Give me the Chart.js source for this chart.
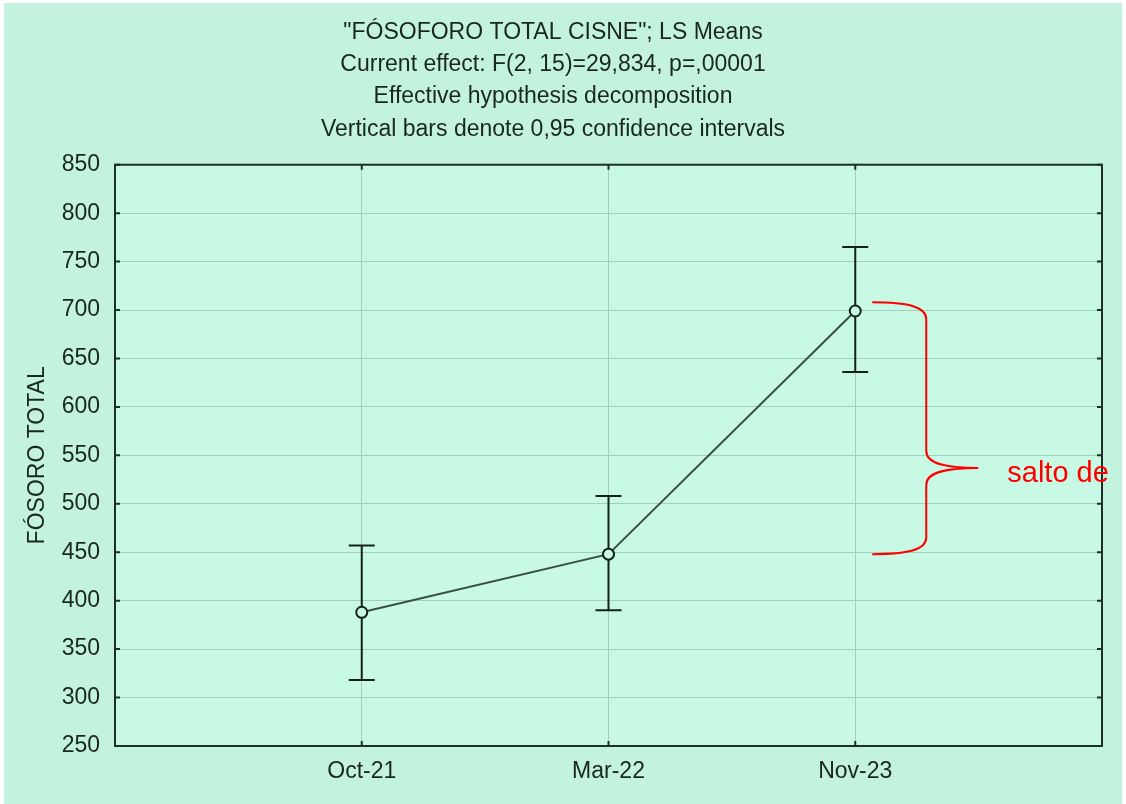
<!DOCTYPE html>
<html>
<head>
<meta charset="utf-8">
<script src="https://cdn.jsdelivr.net/npm/chart.js@4"></script>
<style>
  html, body { margin: 0; padding: 0; background: #ffffff; }
  #wrap { position: absolute; left: 4px; top: 3px; width: 1118px; height: 801px; }
</style>
</head>
<body>
<div id="wrap"><canvas id="lsChart" width="1118" height="801"></canvas></div>
<script>
const categories = ['Oct-21', 'Mar-22', 'Nov-23'];
const means = [388, 448, 699];
const lower95 = [318, 390, 636];
const upper95 = [457, 508, 765];

const titleLines = [
    '"FÓSOFORO TOTAL CISNE"; LS Means',
    'Current effect: F(2, 15)=29,834, p=,00001',
    'Effective hypothesis decomposition',
    'Vertical bars denote 0,95 confidence intervals'
];
const yLabel = 'FÓSORO TOTAL';

// red hand-drawn brace annotation
const braceTop = 708;
const braceTip = 537;
const braceBottom = 448;
const braceNote = 'salto de';

const FONT = "'Liberation Sans', Arial, sans-serif";
const outerBg = '#c3f3df';
const plotBg = '#c7f9e4';
const ink = '#1a2620';

const points = means.map((v, i) => ({ x: i, y: v }));

const bgPlugin = {
    id: 'bg',
    beforeDraw(chart) {
        const { ctx, chartArea: a } = chart;
        ctx.save();
        ctx.fillStyle = outerBg;
        ctx.fillRect(0, 0, chart.width, chart.height);
        ctx.fillStyle = plotBg;
        ctx.fillRect(a.left, a.top, a.right - a.left, a.bottom - a.top);
        ctx.restore();
    }
};

const errorBars = {
    id: 'errorBars',
    beforeDatasetsDraw(chart) {
        const { ctx, scales: { x, y } } = chart;
        ctx.save();
        ctx.strokeStyle = '#17211d';
        ctx.lineWidth = 2;
        for (let i = 0; i < means.length; i++) {
            const px = x.getPixelForValue(i);
            const yl = y.getPixelForValue(lower95[i]);
            const yu = y.getPixelForValue(upper95[i]);
            ctx.beginPath();
            ctx.moveTo(px, yl); ctx.lineTo(px, yu);
            ctx.moveTo(px - 13, yl); ctx.lineTo(px + 13, yl);
            ctx.moveTo(px - 13, yu); ctx.lineTo(px + 13, yu);
            ctx.stroke();
        }
        ctx.restore();
    }
};

const frame = {
    id: 'frame',
    afterDraw(chart) {
        const { ctx, chartArea: a, scales: { x, y } } = chart;
        ctx.save();
        ctx.strokeStyle = '#1c2f28';
        ctx.lineWidth = 2;
        // inner tick marks
        ctx.beginPath();
        y.ticks.forEach(t => {
            const py = y.getPixelForValue(t.value);
            ctx.moveTo(a.left, py); ctx.lineTo(a.left + 5, py);
            ctx.moveTo(a.right, py); ctx.lineTo(a.right - 5, py);
        });
        categories.forEach((c, i) => {
            const px = x.getPixelForValue(i);
            ctx.moveTo(px, a.bottom); ctx.lineTo(px, a.bottom - 5);
            ctx.moveTo(px, a.top); ctx.lineTo(px, a.top + 5);
        });
        ctx.stroke();
        ctx.strokeRect(a.left, a.top, a.right - a.left, a.bottom - a.top);

        // brace
        const x0 = x.getPixelForValue(categories.length - 1);
        const yT = y.getPixelForValue(braceTop);
        const yM = y.getPixelForValue(braceTip);
        const yB = y.getPixelForValue(braceBottom);
        const xs = x0 + 17, xv = x0 + 71, xt = x0 + 123;
        ctx.strokeStyle = '#ff0000';
        ctx.lineWidth = 2;
        ctx.beginPath();
        ctx.moveTo(xs, yT);
        ctx.bezierCurveTo(xs + 35, yT, xv, yT + 4, xv, yT + 17);
        ctx.lineTo(xv, yM - 17);
        ctx.bezierCurveTo(xv, yM - 4, xv + 20, yM, xt, yM);
        ctx.bezierCurveTo(xv + 20, yM, xv, yM + 4, xv, yM + 17);
        ctx.lineTo(xv, yB - 17);
        ctx.bezierCurveTo(xv, yB - 4, xs + 35, yB, xs, yB);
        ctx.stroke();
        ctx.fillStyle = '#ff0000';
        ctx.font = '29px ' + FONT;
        ctx.textBaseline = 'alphabetic';
        ctx.textAlign = 'left';
        ctx.fillText(braceNote, xt + 29, yM + 14);
        ctx.restore();
    }
};

const config = {
    type: 'line',
    data: {
        datasets: [{
            data: points,
            borderColor: '#3b4d45',
            borderWidth: 2,
            tension: 0,
            pointRadius: 5.5,
            pointHoverRadius: 5.5,
            pointBorderWidth: 2,
            pointBorderColor: '#17211d',
            pointBackgroundColor: plotBg,
            fill: false
        }]
    },
    options: {
        responsive: false,
        animation: false,
        events: [],
        layout: { padding: { left: 0, right: 20, top: 0, bottom: 0 } },
        plugins: {
            legend: { display: false },
            tooltip: { enabled: false },
            title: {
                display: true,
                text: titleLines,
                color: ink,
                font: { family: FONT, size: 23, weight: 'normal', lineHeight: 1.41 },
                padding: { top: 13, bottom: 19 }
            }
        },
        scales: {
            x: {
                type: 'linear',
                min: -1,
                max: categories.length,
                afterFit(scale) { scale.height = 58; },
                ticks: {
                    stepSize: 1,
                    color: ink,
                    padding: 12,
                    font: { family: FONT, size: 23 },
                    callback: v => categories[v] ?? ''
                },
                grid: { color: '#a6cfbb', lineWidth: 1, drawTicks: false, tickLength: 0 },
                border: { display: false }
            },
            y: {
                min: 250,
                max: 850,
                afterFit(scale) { scale.width = 111; },
                ticks: {
                    stepSize: 50,
                    color: ink,
                    padding: 15,
                    font: { family: FONT, size: 23 }
                },
                title: {
                    display: true,
                    text: yLabel,
                    color: ink,
                    font: { family: FONT, size: 23 },
                    padding: { top: 20, bottom: 0 }
                },
                grid: { color: '#a6cfbb', lineWidth: 1, drawTicks: false, tickLength: 0 },
                border: { display: false }
            }
        }
    },
    plugins: [bgPlugin, errorBars, frame]
};

const lsChart = new Chart(document.getElementById('lsChart'), config);
</script>
</body>
</html>
